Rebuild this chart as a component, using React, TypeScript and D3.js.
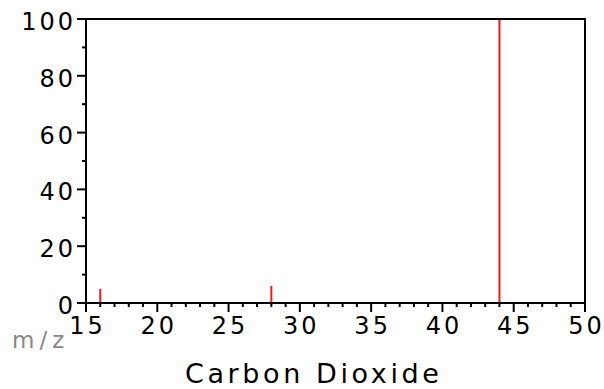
import React from "react";
import * as d3 from "d3";

const mzValues = [16, 28, 44];
const intensities = [5, 6, 100];
const xTickValues = [15, 20, 25, 30, 35, 40, 45, 50];
const yTickValues = [0, 20, 40, 60, 80, 100];
const title = "Carbon Dioxide";
const xAxisLabel = "m/z";

const W = 604;
const H = 389;
const left = 86;
const right = 585;
const top = 19;
const bottom = 303;
const FONT = "'DejaVu Sans', Verdana, sans-serif";

export default function App() {
  const x = d3.scaleLinear().domain([15, 50]).range([left, right]);
  const y = d3.scaleLinear().domain([0, 100]).range([bottom, top]);
  const xMinor = d3.range(15, 51, 1).filter((v) => v % 5 !== 0);
  const yMinor = d3.range(10, 100, 20);
  const ls = 3;
  return (
    <svg
      width={W}
      height={H}
      style={{ position: "absolute", left: 0, top: 0, background: "#fff" }}
    >
      <rect x={0} y={0} width={W} height={H} fill="#fff" />
      {mzValues.map((m, i) => (
        <line
          key={"p" + i}
          x1={x(m)}
          x2={x(m)}
          y1={y(0)}
          y2={y(intensities[i])}
          stroke="#ee1c1c"
          strokeWidth={2}
        />
      ))}
      <rect
        x={left}
        y={top}
        width={right - left}
        height={bottom - top}
        fill="none"
        stroke="#000"
        strokeWidth={2}
      />
      {xTickValues.map((v) => (
        <line key={"xt" + v} x1={x(v)} x2={x(v)} y1={bottom} y2={bottom + 9} stroke="#000" strokeWidth={2} />
      ))}
      {xMinor.map((v) => (
        <line key={"xm" + v} x1={x(v)} x2={x(v)} y1={bottom} y2={bottom + 4} stroke="#000" strokeWidth={2} />
      ))}
      {yTickValues.map((v) => (
        <line key={"yt" + v} x1={left - 9} x2={left} y1={y(v)} y2={y(v)} stroke="#000" strokeWidth={2} />
      ))}
      {yMinor.map((v) => (
        <line key={"ym" + v} x1={left - 4} x2={left} y1={y(v)} y2={y(v)} stroke="#000" strokeWidth={2} />
      ))}
      {xTickValues.map((v) => (
        <text
          key={"xl" + v}
          x={x(v) + ls / 2}
          y={334}
          textAnchor="middle"
          fontFamily={FONT}
          fontSize={24}
          letterSpacing={ls}
          fill="#000"
        >
          {v}
        </text>
      ))}
      {yTickValues.map((v) => (
        <text
          key={"yl" + v}
          x={73 + ls}
          y={y(v) + 11}
          textAnchor="end"
          fontFamily={FONT}
          fontSize={24}
          letterSpacing={ls}
          fill="#000"
        >
          {v}
        </text>
      ))}
      <text x={12} y={348} fontFamily={FONT} fontSize={23} letterSpacing={5} fill="#888">
        {xAxisLabel}
      </text>
      <text x={185} y={383} fontFamily={FONT} fontSize={27} letterSpacing={3.6} fill="#000">
        {title}
      </text>
    </svg>
  );
}
